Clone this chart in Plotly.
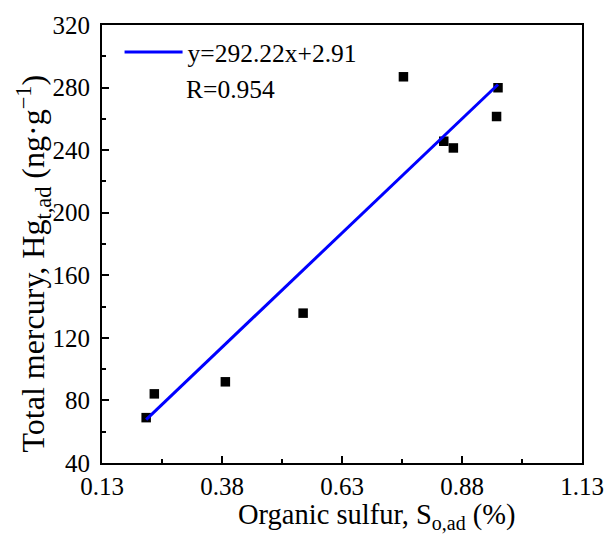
import plotly.graph_objects as go

# Data
organic_sulfur = [0.222, 0.239, 0.387, 0.549, 0.758, 0.842, 0.862, 0.955, 0.952]
total_mercury = [69.0, 84.2, 91.9, 135.8, 286.9, 245.7, 241.4, 279.9, 261.5]
slope = 292.22
intercept = 2.91
r_value = 0.954
x_ticks = [0.13, 0.38, 0.63, 0.88, 1.13]
y_ticks = [40, 80, 120, 160, 200, 240, 280, 320]

FONT = "Liberation Serif, Times New Roman, serif"

fit_x = [min(organic_sulfur), max(organic_sulfur)]
fit_y = [slope * v + intercept for v in fit_x]

fig = go.Figure()
fig.add_trace(go.Scatter(
    x=organic_sulfur, y=total_mercury, mode="markers",
    marker=dict(symbol="square", size=9.5, color="black", line=dict(width=0)),
    showlegend=False, name="data"))
fig.add_trace(go.Scatter(
    x=fit_x, y=fit_y, mode="lines",
    line=dict(color="#0000FF", width=3),
    name=f"y={slope:.2f}x+{intercept:.2f}", showlegend=True))

axis_common = dict(
    showline=True, linecolor="black", linewidth=2, mirror=True,
    ticks="inside", ticklen=7, tickwidth=2, tickcolor="black",
    showgrid=False, zeroline=False,
    tickfont=dict(family=FONT, size=25, color="black"),
)

fig.update_xaxes(range=[0.13, 1.13], tickvals=x_ticks,
                 ticktext=[f"{v:.2f}" for v in x_ticks],
                 minor=dict(ticks="inside", ticklen=4, tickwidth=2,
                            tickcolor="black", dtick=0.125, tick0=0.13),
                 **axis_common)
fig.update_yaxes(range=[40, 320], tickvals=y_ticks, ticklabelstandoff=5,
                 minor=dict(ticks="inside", ticklen=4, tickwidth=2,
                            tickcolor="black", dtick=20, tick0=40),
                 **axis_common)

fig.add_annotation(
    text="Organic sulfur, S<sub>o,ad</sub> (%)", xref="paper", yref="paper",
    x=(384 - 102) / 492, y=-(517 - 463) / 442, showarrow=False,
    font=dict(family=FONT, size=28.5, color="black"), xanchor="center", yanchor="middle")
fig.add_annotation(
    text="Total mercury, Hg<sub>t,ad</sub> (ng·g<sup>−1</sup>)", xref="paper", yref="paper",
    x=-(102 - 32) / 492, y=(463 - 262) / 442, showarrow=False, textangle=-90,
    font=dict(family=FONT, size=32, color="black"), xanchor="center", yanchor="middle")
fig.add_annotation(
    text=f"R={r_value:.3f}", xref="paper", yref="paper",
    x=(186 - 102) / 492, y=(463 - 86) / 442, showarrow=False,
    font=dict(family=FONT, size=25.5, color="black"), xanchor="left", yanchor="middle")

fig.update_layout(
    width=616, height=544,
    margin=dict(l=102, r=22, t=21, b=81),
    paper_bgcolor="white", plot_bgcolor="white",
    font=dict(family=FONT, size=24, color="black"),
    legend=dict(x=(120 - 102) / 492, y=(463 - 25) / 442, xanchor="left", yanchor="top",
                bgcolor="rgba(0,0,0,0)", itemwidth=58,
                font=dict(family=FONT, size=25.5, color="black")),
)

fig.write_html("out.html")
